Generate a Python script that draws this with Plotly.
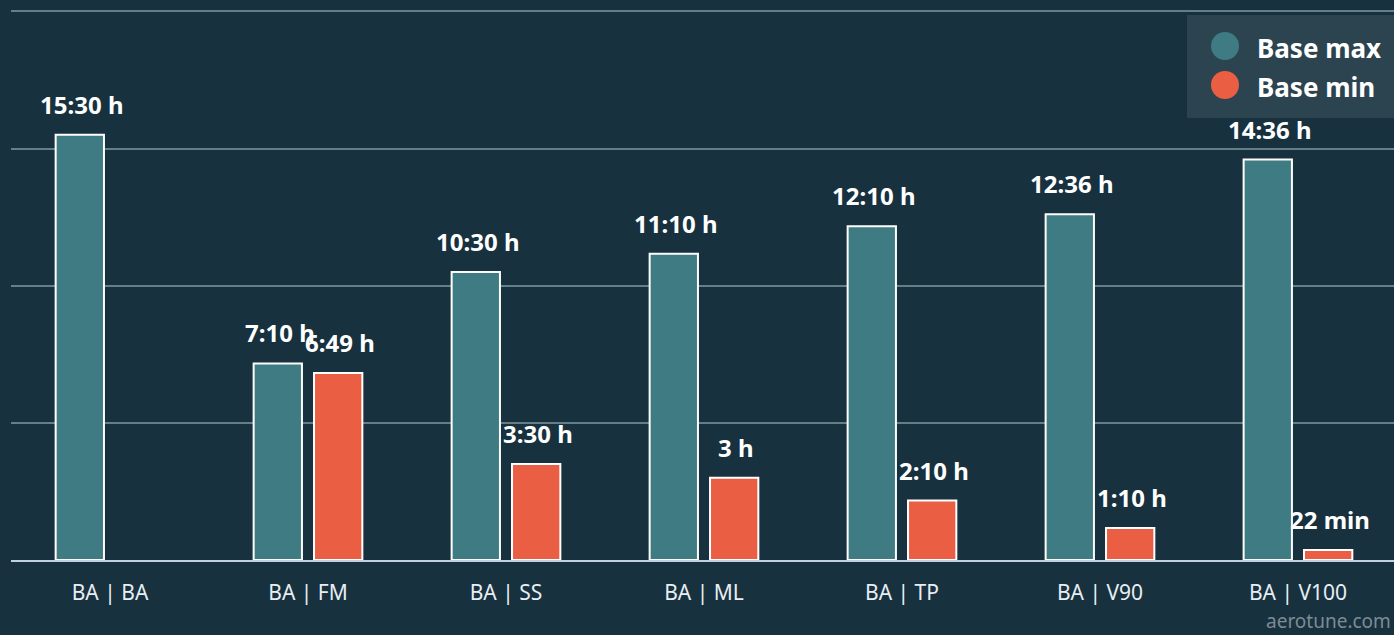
import plotly.graph_objects as go

categories = ["BA | BA", "BA | FM", "BA | SS", "BA | ML", "BA | TP", "BA | V90", "BA | V100"]
base_max = [15.5, 7 + 10/60, 10.5, 11 + 10/60, 12 + 10/60, 12.6, 14.6]
base_min = [0, 6 + 49/60, 3.5, 3.0, 2 + 10/60, 1 + 10/60, 22/60]
max_labels = ["15:30 h", "7:10 h", "10:30 h", "11:10 h", "12:10 h", "12:36 h", "14:36 h"]
min_labels = ["", "6:49 h", "3:30 h", "3 h", "2:10 h", "1:10 h", "22 min"]

BG = "#17313f"
TEAL = "#3e7b82"
ORANGE = "#ea5f44"
FONT = "Noto Sans"
YMAX = 20.05
PLOT_TOP = 10
PLOT_BOT = 560
PLOT_H = PLOT_BOT - PLOT_TOP

fig = go.Figure()
fig.add_trace(go.Bar(x=categories, y=base_max, name="Base max",
                     marker=dict(color=TEAL, line=dict(color="white", width=[2 if v > 0 else 0 for v in base_max])),
                     showlegend=False))
fig.add_trace(go.Bar(x=categories, y=base_min, name="Base min",
                     marker=dict(color=ORANGE, line=dict(color="white", width=[2 if v > 0 else 0 for v in base_min])),
                     showlegend=False))

lab_font = dict(family=FONT, size=24, color="white", weight="bold")
ann = []
for c, v, t in zip(categories, base_max, max_labels):
    ann.append(dict(x=c, y=v, text=t, xshift=-28, yshift=12, yanchor="bottom", showarrow=False, font=lab_font))
for c, v, t in zip(categories, base_min, min_labels):
    if t:
        ann.append(dict(x=c, y=v, text=t, xshift=32, yshift=12, yanchor="bottom", showarrow=False, font=lab_font))


def px(xp, yp):
    return (xp - 11) / 1383, (PLOT_BOT - yp) / PLOT_H

leg_font = dict(family=FONT, size=26, color="white", weight="bold")
for yy, name in [(48, "Base max"), (87, "Base min")]:
    xx, yv = px(1255, yy)
    ann.append(dict(xref="paper", yref="paper", x=xx, y=yv, text=name, xanchor="left", yanchor="middle",
                    showarrow=False, font=leg_font))
# watermark
wx, wy = px(1393, 621)
ann.append(dict(xref="paper", yref="paper", x=wx, y=wy, text="aerotune.com", xanchor="right", yanchor="middle",
                showarrow=False, font=dict(family=FONT, size=19, color="#7d8c94")))

shapes = []
x0, y0 = px(1187, 118); x1, y1 = px(1400, 15)
shapes.append(dict(type="rect", xref="paper", yref="paper", x0=x0, y0=y0, x1=x1, y1=y1,
                   fillcolor="#2c444f", line=dict(width=0), layer="below"))
for cy, col in [(46, TEAL), (85, ORANGE)]:
    a0, b0 = px(1211, cy + 14); a1, b1 = px(1239, cy - 14)
    shapes.append(dict(type="circle", xref="paper", yref="paper", x0=a0, y0=b0, x1=a1, y1=b1,
                       fillcolor=col, line=dict(width=0)))

fig.update_layout(
    width=1394, height=635,
    margin=dict(l=11, r=0, t=PLOT_TOP, b=635 - PLOT_BOT),
    paper_bgcolor=BG, plot_bgcolor=BG,
    barmode="group", bargap=0.39, bargroupgap=0.2,
    annotations=ann, shapes=shapes,
    font=dict(family=FONT),
)
fig.update_xaxes(range=[-0.5, 6.485], showline=True, linecolor="#c3cfe0", linewidth=2, showgrid=False,
                 ticks="outside", ticklen=13, tickcolor=BG,
                 tickfont=dict(family=FONT, size=21, color="#e8eef2"))
fig.update_yaxes(range=[0, YMAX], tickvals=[5, 10, 15, 20], showticklabels=False,
                 gridcolor="#647f88", gridwidth=2, zeroline=False)

fig.write_html("out.html")
